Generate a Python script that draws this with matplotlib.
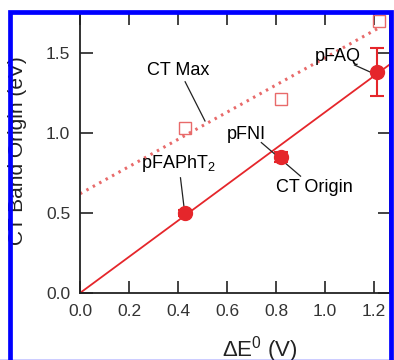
import matplotlib
matplotlib.use('Agg')
import matplotlib.pyplot as plt
from matplotlib.patches import Rectangle
import numpy as np

plt.rcParams['font.family'] = ['Liberation Sans', 'DejaVu Sans']
plt.rcParams['mathtext.fontset'] = 'custom'
plt.rcParams['mathtext.rm'] = 'Liberation Sans'

# CT band origin (filled circles) and CT max (open squares)
origin_x = [0.43, 0.82, 1.21]
origin_y = [0.50, 0.85, 1.38]
origin_err = [0.02, 0.03, 0.15]
max_x = [0.43, 0.82, 1.22]
max_y = [1.03, 1.21, 1.70]
origin_slope = 1.13
max_intercept, max_slope = 0.62, 0.85

red = '#e5262b'
pink = '#e86a6a'

fig = plt.figure(figsize=(3.94, 3.60), dpi=100)
ax = fig.add_axes([80/394, 67/360, 310/394, 281/360])

xs = np.array([0, 1.3])
ax.plot(xs, origin_slope * xs, color=red, lw=1.3, zorder=2)
xm = np.array([0, 1.22])
ax.plot(xm, max_intercept + max_slope * xm, color=pink, lw=2.2,
        ls=(0, (0.8, 1.6)), zorder=2)

ax.errorbar(origin_x, origin_y, yerr=origin_err, fmt='o', color=red,
            ms=10, capsize=5, elinewidth=1.5, capthick=1.5, zorder=4)
ax.plot(max_x, max_y, 's', mfc='none', mec=pink, ms=8, mew=1.0, zorder=3)

def label(txt, pos, start=None, end=None):
    ax.text(pos[0], pos[1], txt, ha='center', va='center', fontsize=13)
    if start is not None:
        ax.plot([start[0], end[0]], [start[1], end[1]], color='#222222', lw=0.9, zorder=3)

label('CT Max', (0.40, 1.39), (0.429, 1.32), (0.51, 1.075))
label('pFAPhT$_2$', (0.40, 0.81), (0.41, 0.72), (0.425, 0.53))
label('pFNI', (0.68, 0.99), (0.74, 0.94), (0.90, 0.73))
label('CT Origin', (0.955, 0.66))
label('pFAQ', (1.053, 1.475), (1.12, 1.425), (1.20, 1.37))

ax.set_xlim(0, 1.265)
ax.set_ylim(0, 1.756)
ax.set_xticks([0.0, 0.2, 0.4, 0.6, 0.8, 1.0, 1.2])
ax.set_yticks([0.0, 0.5, 1.0, 1.5])
ax.xaxis.set_major_formatter(matplotlib.ticker.FormatStrFormatter('%.1f'))
ax.yaxis.set_major_formatter(matplotlib.ticker.FormatStrFormatter('%.1f'))
ax.tick_params(direction='in', length=9, width=1.2, labelsize=12.5,
               top=True, right=True, colors='#222222', labelcolor='#333333')
ax.tick_params(axis='x', pad=8)
ax.tick_params(axis='y', pad=7)
for s in ax.spines.values():
    s.set_linewidth(1.3)
    s.set_color('#222222')

ax.set_ylabel('CT Band Origin (eV)', fontsize=15, color='#222222')
ax.yaxis.set_label_coords(-0.17, 0.505)
fig.text(260/394, 1 - 334/360, r'$\Delta$E$^0$ (V)', ha='center', va='top',
         fontsize=16, color='#222222')

fig.add_artist(Rectangle((9.5/394, -0.05), (391 - 9.5)/394, (360 - 12)/360 + 0.05,
                         transform=fig.transFigure, fill=False,
                         edgecolor='#0000ff', lw=3.4, zorder=10))
fig.add_artist(plt.Line2D([0, 1], [0.5/360, 0.5/360], transform=fig.transFigure,
                          color='#0000ff', lw=1.0, zorder=10))

fig.savefig('out.png', dpi=100)
